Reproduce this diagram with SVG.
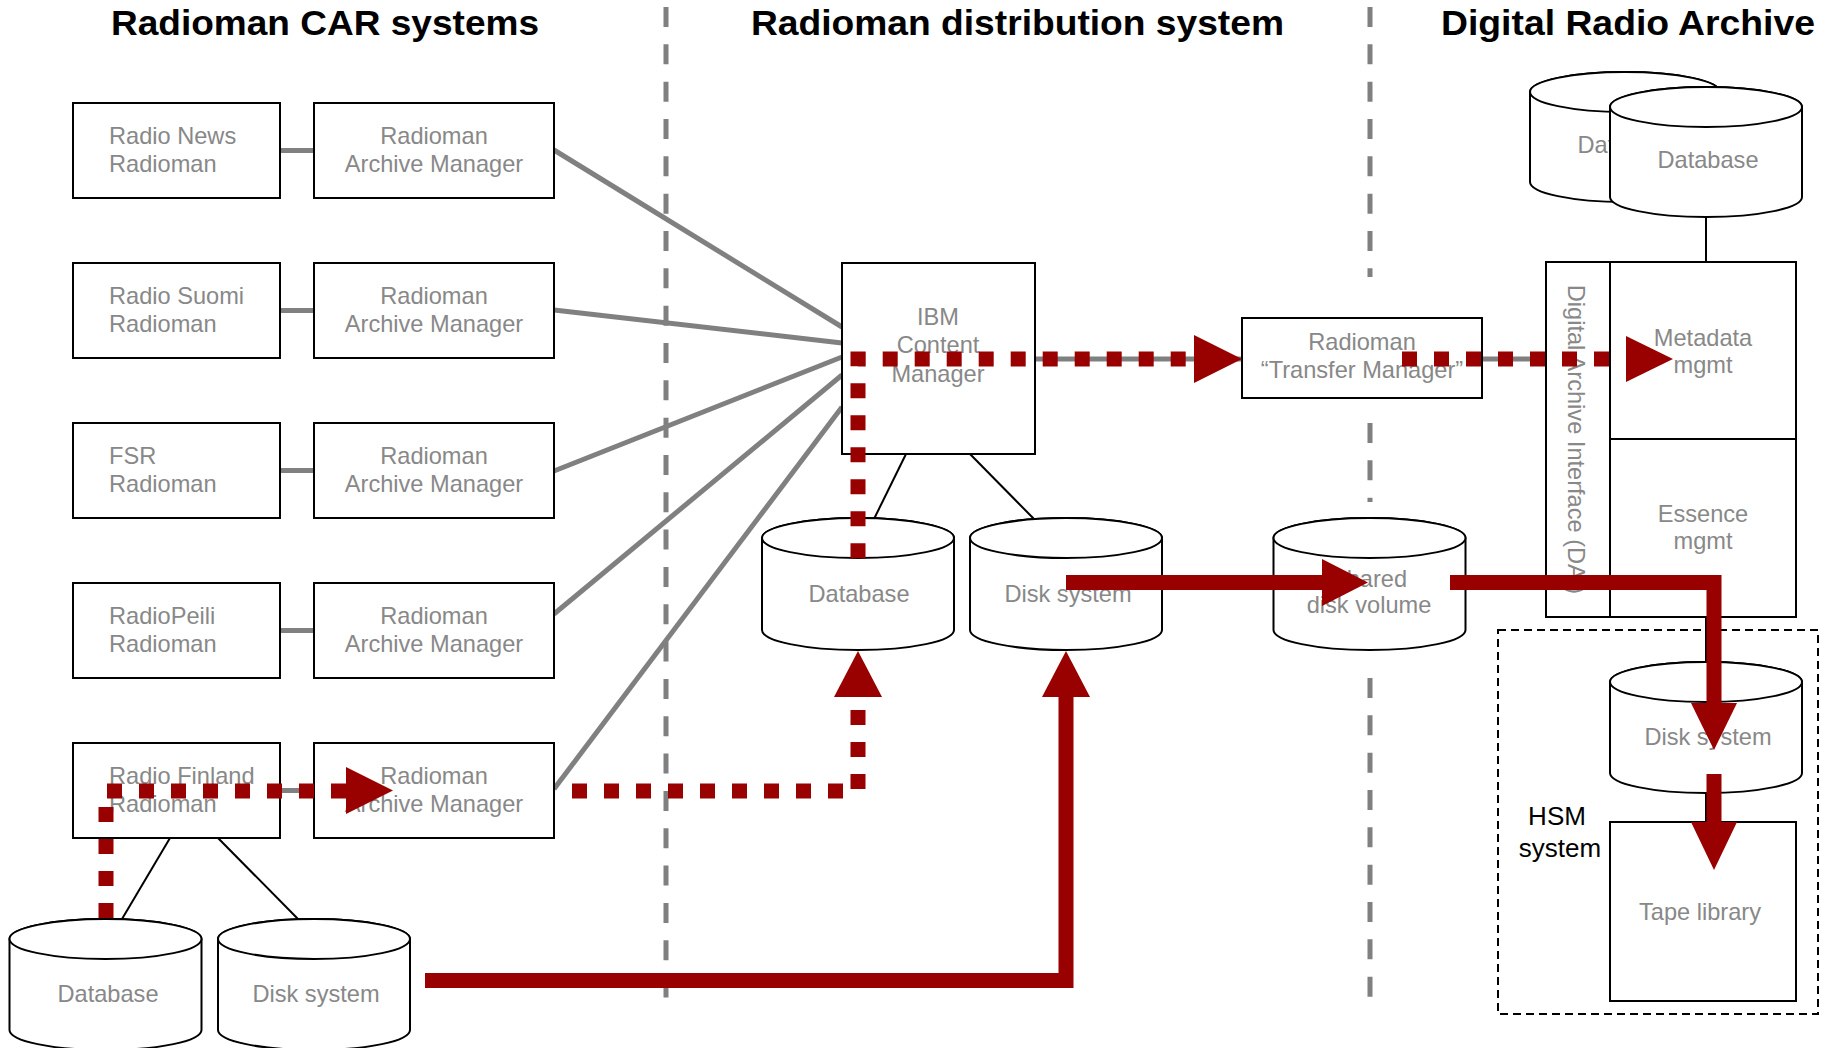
<svg xmlns="http://www.w3.org/2000/svg" width="1835" height="1048" viewBox="0 0 1835 1048">
<style>
.box{fill:#fff;stroke:#000;stroke-width:2}
.cyl{fill:#fff;stroke:#000;stroke-width:2}
.t{font-family:"Liberation Sans",Arial,sans-serif;font-size:23.6px;fill:#888888}
.tc{text-anchor:middle}
.title{font-family:"Liberation Sans",Arial,sans-serif;font-size:35px;font-weight:bold;fill:#000}
.hsm{font-family:"Liberation Sans",Arial,sans-serif;font-size:26px;fill:#000;text-anchor:middle}
.sep{stroke:#808080;stroke-width:5;stroke-dasharray:20 17.33;fill:none}
.gl{stroke:#808080;stroke-width:5;fill:none}
.bl{stroke:#000;stroke-width:2;fill:none}
.rdot{stroke:#990000;stroke-width:15;stroke-dasharray:15 17;fill:none;stroke-linejoin:miter}
.rsol{stroke:#990000;stroke-width:15;fill:none;stroke-linejoin:miter}
.ah{fill:#990000}
</style>

<!-- titles -->
<g id="titles">
<text class="title" x="111" y="35" textLength="428" lengthAdjust="spacingAndGlyphs">Radioman CAR systems</text>
<text class="title" x="751" y="35" textLength="533" lengthAdjust="spacingAndGlyphs">Radioman distribution system</text>
<text class="title" x="1441" y="35" textLength="374" lengthAdjust="spacingAndGlyphs">Digital Radio Archive</text>
</g>

<!-- separators -->
<g id="separators">
<line class="sep" x1="666" y1="7" x2="666" y2="998"/>
<line class="sep" x1="1370" y1="7" x2="1370" y2="277"/>
<line class="sep" x1="1370" y1="423" x2="1370" y2="502"/>
<line class="sep" x1="1370" y1="678" x2="1370" y2="998"/>
</g>

<!-- background connectors -->
<g id="connectors">
<line class="gl" x1="280" y1="150.5" x2="314" y2="150.5"/>
<line class="gl" x1="280" y1="310.5" x2="314" y2="310.5"/>
<line class="gl" x1="280" y1="470.5" x2="314" y2="470.5"/>
<line class="gl" x1="280" y1="630.5" x2="314" y2="630.5"/>
<line class="gl" x1="280" y1="790.5" x2="314" y2="790.5"/>
<line class="gl" x1="554" y1="150" x2="842" y2="327"/>
<line class="gl" x1="554" y1="310" x2="842" y2="343"/>
<line class="gl" x1="554" y1="471" x2="842" y2="357"/>
<line class="gl" x1="554" y1="614" x2="842" y2="375"/>
<line class="gl" x1="554" y1="789" x2="842" y2="407"/>
<line class="gl" x1="1035" y1="359" x2="1242" y2="359"/>
<line class="gl" x1="1482" y1="359" x2="1546" y2="359"/>
<line class="bl" x1="906" y1="454" x2="874" y2="519"/>
<line class="bl" x1="970" y1="454" x2="1034" y2="519"/>
<line class="bl" x1="170" y1="838" x2="122" y2="919"/>
<line class="bl" x1="218" y1="838" x2="298" y2="919"/>
<line class="bl" x1="1706" y1="217" x2="1706" y2="262"/>
<line class="bl" x1="1706" y1="617" x2="1706" y2="662"/>
<line class="bl" x1="1706" y1="793" x2="1706" y2="822"/>
</g>

<!-- CAR system boxes -->
<g id="radio-news"><rect class="box" x="73" y="103" width="207" height="95"/><text class="t" x="109" y="144">Radio News</text><text class="t" x="109" y="172">Radioman</text></g>
<g id="am1"><rect class="box" x="314" y="103" width="240" height="95"/><text class="t tc" x="434" y="144">Radioman</text><text class="t tc" x="434" y="172">Archive Manager</text></g>
<g id="radio-suomi"><rect class="box" x="73" y="263" width="207" height="95"/><text class="t" x="109" y="304">Radio Suomi</text><text class="t" x="109" y="332">Radioman</text></g>
<g id="am2"><rect class="box" x="314" y="263" width="240" height="95"/><text class="t tc" x="434" y="304">Radioman</text><text class="t tc" x="434" y="332">Archive Manager</text></g>
<g id="fsr"><rect class="box" x="73" y="423" width="207" height="95"/><text class="t" x="109" y="464">FSR</text><text class="t" x="109" y="492">Radioman</text></g>
<g id="am3"><rect class="box" x="314" y="423" width="240" height="95"/><text class="t tc" x="434" y="464">Radioman</text><text class="t tc" x="434" y="492">Archive Manager</text></g>
<g id="radiopeili"><rect class="box" x="73" y="583" width="207" height="95"/><text class="t" x="109" y="624">RadioPeili</text><text class="t" x="109" y="652">Radioman</text></g>
<g id="am4"><rect class="box" x="314" y="583" width="240" height="95"/><text class="t tc" x="434" y="624">Radioman</text><text class="t tc" x="434" y="652">Archive Manager</text></g>
<g id="radio-finland"><rect class="box" x="73" y="743" width="207" height="95"/><text class="t" x="109" y="784">Radio Finland</text><text class="t" x="109" y="812">Radioman</text></g>
<g id="am5"><rect class="box" x="314" y="743" width="240" height="95"/><text class="t tc" x="434" y="784">Radioman</text><text class="t tc" x="434" y="812">Archive Manager</text></g>

<!-- bottom-left cylinders -->
<g id="rf-database"><path class="cyl" d="M9.5,939 V1030 A96,20 0 0 0 201.5,1030 V939 A96,20 0 0 0 9.5,939 Z"/><ellipse class="cyl" cx="105.5" cy="939" rx="96" ry="20"/><text class="t tc" x="108" y="1002">Database</text></g>
<g id="rf-disk"><path class="cyl" d="M218,939 V1030 A96,20 0 0 0 410,1030 V939 A96,20 0 0 0 218,939 Z"/><ellipse class="cyl" cx="314" cy="939" rx="96" ry="20"/><text class="t tc" x="316" y="1002">Disk system</text></g>

<!-- distribution system -->
<g id="ibm-cm"><rect class="box" x="842" y="263" width="193" height="191"/><text class="t tc" x="938" y="325">IBM</text><text class="t tc" x="938" y="353">Content</text><text class="t tc" x="938" y="382">Manager</text></g>
<g id="dist-database"><path class="cyl" d="M762,538 V630 A96,20 0 0 0 954,630 V538 A96,20 0 0 0 762,538 Z"/><ellipse class="cyl" cx="858" cy="538" rx="96" ry="20"/><text class="t tc" x="859" y="602">Database</text></g>
<g id="dist-disk"><path class="cyl" d="M970,538 V630 A96,20 0 0 0 1162,630 V538 A96,20 0 0 0 970,538 Z"/><ellipse class="cyl" cx="1066" cy="538" rx="96" ry="20"/><text class="t tc" x="1068" y="602">Disk system</text></g>
<g id="transfer-manager"><rect class="box" x="1242" y="318" width="240" height="80"/><text class="t tc" x="1362" y="350">Radioman</text><text class="t tc" x="1362" y="378">“Transfer Manager”</text></g>
<g id="shared-volume"><path class="cyl" d="M1273.5,538 V630 A96,20 0 0 0 1465.5,630 V538 A96,20 0 0 0 1273.5,538 Z"/><ellipse class="cyl" cx="1369.5" cy="538" rx="96" ry="20"/><text class="t tc" x="1369" y="587">Shared</text><text class="t tc" x="1369" y="613">disk volume</text></g>

<!-- digital radio archive -->
<g id="dra-database-back"><path class="cyl" d="M1530,92 V182 A95,20 0 0 0 1720,182 V92 A95,20 0 0 0 1530,92 Z"/><ellipse class="cyl" cx="1625" cy="92" rx="95" ry="20"/><text class="t tc" x="1628" y="153">Database</text></g>
<g id="dra-database"><path class="cyl" d="M1610,107 V197 A96,20 0 0 0 1802,197 V107 A96,20 0 0 0 1610,107 Z"/><ellipse class="cyl" cx="1706" cy="107" rx="96" ry="20"/><text class="t tc" x="1708" y="168">Database</text></g>
<g id="dai"><rect class="box" x="1546" y="262" width="64" height="355"/><text class="t tc" transform="translate(1568,439.5) rotate(90)" x="0" y="0">Digital Archive Interface (DAI)</text></g>
<g id="metadata-mgmt"><rect class="box" x="1610" y="262" width="186" height="177"/><text class="t tc" x="1703" y="346">Metadata</text><text class="t tc" x="1703" y="373">mgmt</text></g>
<g id="essence-mgmt"><rect class="box" x="1610" y="439" width="186" height="178"/><text class="t tc" x="1703" y="522">Essence</text><text class="t tc" x="1703" y="549">mgmt</text></g>
<g id="hsm-system"><rect x="1498" y="630" width="320" height="384" fill="none" stroke="#000" stroke-width="2" stroke-dasharray="8 5"/><text class="hsm" x="1557" y="825">HSM</text><text class="hsm" x="1560" y="857">system</text></g>
<g id="hsm-disk"><path class="cyl" d="M1610,682 V773 A96,20 0 0 0 1802,773 V682 A96,20 0 0 0 1610,682 Z"/><ellipse class="cyl" cx="1706" cy="682" rx="96" ry="20"/><text class="t tc" x="1708" y="745">Disk system</text></g>
<g id="tape-library"><rect class="box" x="1610" y="822" width="186" height="179"/><text class="t tc" x="1700" y="920">Tape library</text></g>

<!-- data flows -->
<g id="flows">
<path class="rdot" d="M106,918 V791 H346"/>
<polygon class="ah" points="346,767 393,790.5 346,814"/>
<path class="rdot" d="M572,791 H858 V697"/>
<polygon class="ah" points="834,697 858,651 882,697"/>
<path class="rdot" d="M858,558.3 V359 H1194"/>
<polygon class="ah" points="1194,335 1242,359 1194,383"/>
<path class="rdot" d="M1402,359 H1626"/>
<polygon class="ah" points="1626,336 1673,359 1626,382"/>
<path class="rsol" d="M425,980.5 H1066 V697"/>
<polygon class="ah" points="1042,697 1066,651 1090,697"/>
<path class="rsol" d="M1066,582.5 H1322"/>
<polygon class="ah" points="1322,559 1368,582.5 1322,606"/>
<path class="rsol" d="M1450,582.5 H1714 V703"/>
<polygon class="ah" points="1691,703 1714,750 1737,703"/>
<path class="rsol" d="M1714,774 V822"/>
<polygon class="ah" points="1691,822 1714,870 1737,822"/>
</g>
</svg>
